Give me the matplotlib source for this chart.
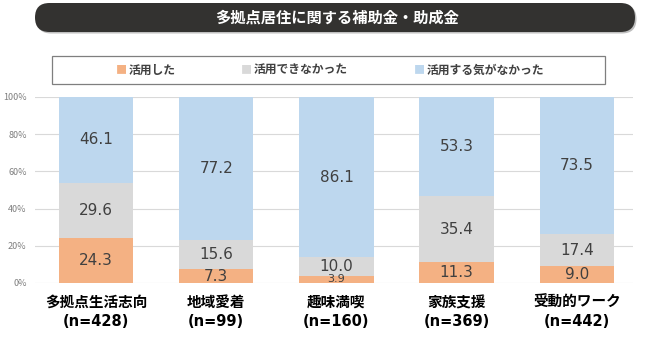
import matplotlib
matplotlib.use('Agg')
import matplotlib.pyplot as plt
from matplotlib.patches import FancyBboxPatch, Rectangle
from matplotlib.transforms import blended_transform_factory
import numpy as np

plt.rcParams['font.family'] = ['Noto Sans CJK JP', 'DejaVu Sans']

title = '多拠点居住に関する補助金・助成金'
categories = ['多拠点生活志向', '地域愛着', '趣味満喫', '家族支援', '受動的ワーク']
counts = [428, 99, 160, 369, 442]
series_names = ['活用した', '活用できなかった', '活用する気がなかった']
used = [24.3, 7.3, 3.9, 11.3, 9.0]
could_not = [29.6, 15.6, 10.0, 35.4, 17.4]
no_intent = [46.1, 77.2, 86.1, 53.3, 73.5]
colors = ['#F4B183', '#D9D9D9', '#BDD7EE']

fig = plt.figure(figsize=(6.45, 3.4), dpi=100)
ax = fig.add_axes([35 / 645, 57 / 340, 598 / 645, 186 / 340])

x = np.arange(len(categories))
bottom = np.zeros(len(categories))
for vals, col in zip([used, could_not, no_intent], colors):
    vals = np.array(vals)
    ax.bar(x, vals, width=0.62, bottom=bottom, color=col, zorder=2)
    for xi, b, v in zip(x, bottom, vals):
        fs = 8 if v < 5 else 11
        ax.text(xi, b + v / 2, f'{v:.1f}', ha='center', va='center',
                fontsize=fs, color='#404040', family=['DejaVu Sans'], zorder=3)
    bottom += vals

ax.set_xlim(-0.507, 4.466)
ax.set_ylim(0, 100)
ax.set_yticks(range(0, 101, 20))
ax.set_yticklabels([f'{t}%' for t in range(0, 101, 20)], fontsize=6.5, color='#7f7f7f')
ax.grid(axis='y', color='#D9D9D9', linewidth=0.8, zorder=0)
ax.tick_params(axis='both', length=0)
ax.tick_params(axis='y', pad=6)
ax.set_xticks(x)
ax.set_xticklabels(categories, fontsize=10.5, fontweight='bold', color='#000000')
ax.tick_params(axis='x', pad=8)
for s in ax.spines.values():
    s.set_visible(False)

# sample sizes as a second label line
trans = blended_transform_factory(ax.transData, fig.dpi_scale_trans)
for xi, n in zip(x, counts):
    ax.text(xi, 0.18, f'(n={n})', transform=trans, ha='center', va='center',
            fontsize=10.5, fontweight='bold', color='#000000', family=['DejaVu Sans'])

# title bar
shadow = FancyBboxPatch((0.365, 3.065), 6.0, 0.29, boxstyle='round,pad=0,rounding_size=0.145',
                        transform=fig.dpi_scale_trans, facecolor='#BFBFBF', edgecolor='none')
fig.add_artist(shadow)
bar = FancyBboxPatch((0.35, 3.08), 6.0, 0.29, boxstyle='round,pad=0,rounding_size=0.145',
                     transform=fig.dpi_scale_trans, facecolor='#333230', edgecolor='none')
fig.add_artist(bar)
fig.text(3.37, 3.225, title, transform=fig.dpi_scale_trans, ha='center', va='center',
         color='white', fontsize=11, fontweight='bold')

# legend box
frame = Rectangle((0.52, 2.56), 5.53, 0.28, transform=fig.dpi_scale_trans,
                  facecolor='white', edgecolor='#7f7f7f', linewidth=0.9)
fig.add_artist(frame)
marker_x = [1.21, 2.46, 4.19]
for mx, name, col in zip(marker_x, series_names, colors):
    fig.text(mx, 2.70, '■', transform=fig.dpi_scale_trans, ha='center', va='center',
             color=col, fontsize=8)
    fig.text(mx + 0.08, 2.70, name, transform=fig.dpi_scale_trans, ha='left', va='center',
             color='#404040', fontsize=8.5, fontweight='bold')

fig.savefig('out.png', dpi=100)
